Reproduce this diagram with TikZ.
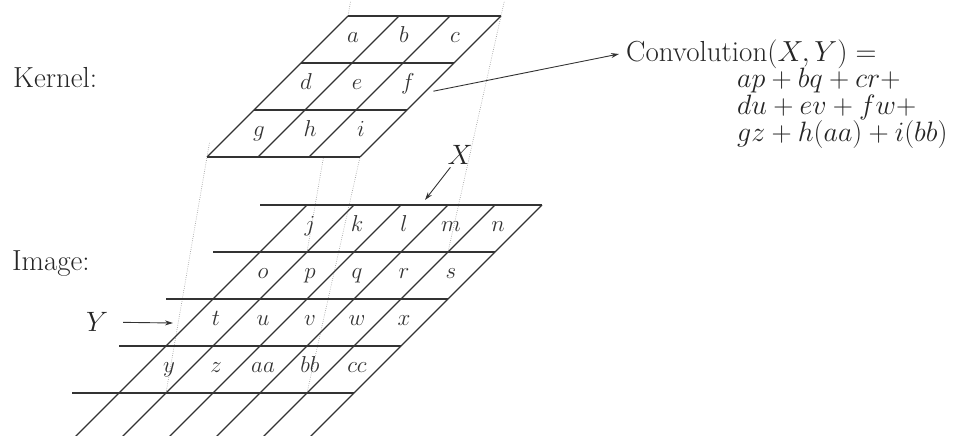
\documentclass[tikz,border=0pt]{standalone}
\usepackage{fix-cm}
\usepackage{tikz}
\usetikzlibrary{arrows.meta,calc}
\definecolor{gridInk}{HTML}{333333}
\definecolor{projGray}{HTML}{A0A0A0}
\tikzset{
  gridline/.style={draw=gridInk,line width=1.2pt},
  cell/.style={font=\fontsize{23}{25}\selectfont,anchor=base,inner sep=0pt,
    xshift=3pt,yshift=-3pt,text=gridInk},
  caption/.style={font=\fontsize{29}{32}\selectfont,anchor=base west,inner sep=0pt,text=black!85},
  formula/.style={caption,font=\fontsize{28}{30}\selectfont},
  axislbl/.style={font=\fontsize{28}{30}\selectfont,inner sep=1pt,text=black!85},
  pointer/.style={-{Stealth[length=8pt,width=5pt]},draw=gridInk,line width=.9pt},
  proj/.style={draw=projGray,line width=.7pt,dash pattern=on .7pt off 1.5pt},
  kernelgrid/.style={shift={(348,16)},x={(51pt,0pt)},y={(-47pt,-47pt)}},
  imagegrid/.style={shift={(260,205)},x={(47pt,0pt)},y={(-47pt,-47pt)}},
}

\begin{document}
\begin{tikzpicture}[x=1pt,y=-1pt]
  \useasboundingbox (0,0) rectangle (971,436);
  \begin{scope}[kernelgrid]
    \coordinate (ker-tl) at (0,0);
    \coordinate (ker-tr) at (3,0);
    \coordinate (ker-bl) at (0,3);
    \coordinate (ker-br) at (3,3);
    \coordinate (fout) at (3.15,1.6);
  \end{scope}
  \begin{scope}[imagegrid]
    \coordinate (img-tl) at (2,1);
    \coordinate (img-tr) at (5,1);
    \coordinate (img-bl) at (2,4);
    \coordinate (img-br) at (5,4);
  \end{scope}
  \foreach \c in {tl,tr,bl,br}
    \draw[proj] ($(ker-\c)!-.06!(img-\c)$) -- (img-\c);

  \begin{scope}[kernelgrid]
    \fill[white] (0,0) -- (3,0) -- (3,3) -- (0,3) -- cycle;
    \foreach \ri in {0,...,3}
      \draw[gridline] (0,\ri) -- (3,\ri);
    \foreach \ci in {0,...,3}
      \draw[gridline] (\ci,0) -- (\ci,3);
    \foreach \lbl [count=\i from 0] in {a,b,c,d,e,f,g,h,i} {
      \pgfmathtruncatemacro\ri{\i/3}
      \pgfmathtruncatemacro\ci{\i-3*\ri}
      \node[cell] (ker-\lbl) at (\ci+.5,\ri+.5) {$\lbl$};
    }
  \end{scope}

  \begin{scope}[imagegrid]
    \foreach \ri in {0,...,4}
      \draw[gridline] (0,\ri) -- (6,\ri);
    \foreach \ci in {1,...,6}
      \draw[gridline] (\ci,0) -- (\ci,4.93);
    \foreach \lbl [count=\i from 0] in {j,k,l,m,n,o,p,q,r,s,t,u,v,w,x,y,z,aa,bb,cc} {
      \pgfmathtruncatemacro\ri{\i/5}
      \pgfmathtruncatemacro\ci{\i-5*\ri}
      \node[cell] (img-\lbl) at (\ci+1.5,\ri+.5) {$\lbl$};
    }
  \end{scope}

  \node[caption] (kernlbl) at (13,87) {Kernel:};
  \node[caption] (imglbl) at (12,270) {Image:};
  \node[caption] (conv) at (626,61) {Convolution$(X,Y) =$};
  \node[formula] (eq1) at (737,88) {$ap+bq+cr+$};
  \node[formula] (eq2) at (737,114.5) {$du+ev+fw+$};
  \node[formula] (eq3) at (737,141.5) {$gz+h(aa)+i(bb)$};
  \node[axislbl] (xlbl) at (460,155) {$X$};
  \node[axislbl] (ylbl) at (97,322) {$Y$};
  \coordinate (xtip) at (425,200);
  \coordinate (ytip) at (173,323);
  \coordinate (convtip) at (619,54);
  \draw[pointer,shorten <=2pt] (xlbl) -- (xtip);
  \draw[pointer,shorten <=14pt] (ylbl) -- (ytip);
  \draw[pointer] (fout) -- (convtip);
\end{tikzpicture}
\end{document}
